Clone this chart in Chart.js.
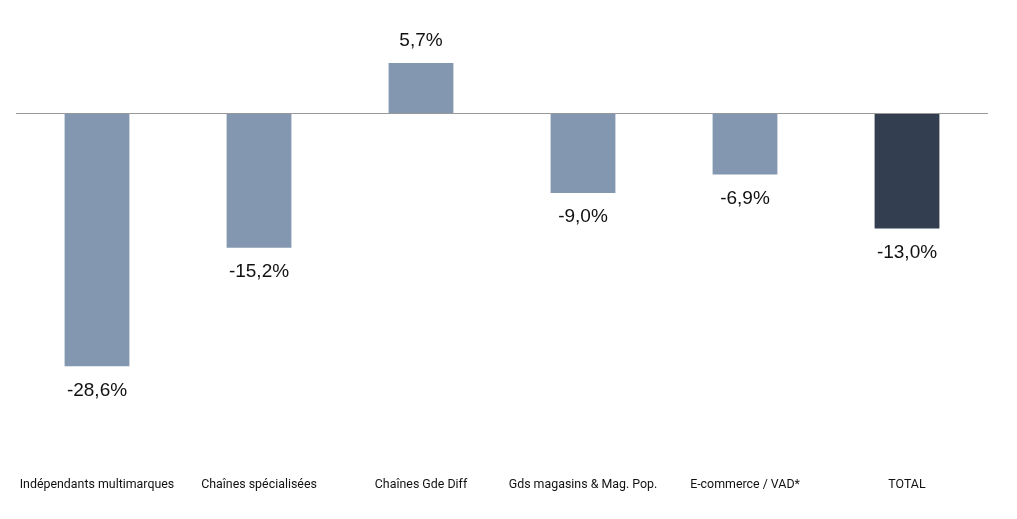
<!DOCTYPE html>
<html>
<head>
<meta charset="utf-8">
<script src="https://cdn.jsdelivr.net/npm/chart.js@4"></script>
<style>
  html, body { margin: 0; padding: 0; background: #fff; }
  #wrap { width: 1017px; height: 519px; }
</style>
</head>
<body>
<div id="wrap"><canvas id="myChart" width="1017" height="519"></canvas></div>
<script>
// Catégories et valeurs (%)
const categories = ["Indépendants multimarques", "Chaînes spécialisées", "Chaînes Gde Diff", "Gds magasins & Mag. Pop.", "E-commerce / VAD*", "TOTAL"];
const values = [-28.6, -15.2, 5.7, -9.0, -6.9, -13.0];
const barColors = ["#8497b0", "#8497b0", "#8497b0", "#8497b0", "#8497b0", "#333f50"];

// Étiquettes de valeur au-dessus / en dessous des barres
const valueLabels = {
    id: "valueLabels",
    afterDatasetsDraw(chart) {
        const ctx = chart.ctx;
        const meta = chart.getDatasetMeta(0);
        ctx.save();
        ctx.font = "19px 'Liberation Sans', Arial, sans-serif";
        ctx.fillStyle = "#111";
        ctx.textAlign = "center";
        ctx.textBaseline = "middle";
        meta.data.forEach((bar, i) => {
            const v = values[i];
            const txt = v.toFixed(1).replace(".", ",") + "%";
            const y = v >= 0 ? bar.y - 22 : bar.y + 24;
            ctx.fillText(txt, bar.x, y);
        });
        ctx.restore();
    }
};

let ctx = document.getElementById("myChart").getContext("2d");
let chart = new Chart(ctx, {
    type: "bar",
    data: {
        labels: categories,
        datasets: [{
            data: values,
            backgroundColor: barColors,
            borderWidth: 0,
            categoryPercentage: 1,
            barPercentage: 0.4
        }]
    },
    options: {
        responsive: false,
        animation: false,
        layout: {
            padding: { left: 16, right: 29, top: 25, bottom: 25 }
        },
        plugins: {
            legend: { display: false },
            tooltip: { enabled: false }
        },
        scales: {
            x: {
                grid: { display: false },
                border: { display: false },
                ticks: {
                    padding: 2,
                    color: "#111",
                    maxRotation: 0,
                    autoSkip: false,
                    font: { family: "Roboto", size: 12.4 }
                }
            },
            y: {
                min: -40,
                max: 10,
                border: { display: false },
                grid: {
                    drawTicks: false,
                    lineWidth: 1,
                    color: c => c.tick.value === 0 ? "#999999" : "rgba(0,0,0,0)"
                },
                ticks: { display: false, stepSize: 10 }
            }
        }
    },
    plugins: [valueLabels]
});
</script>
</body>
</html>
